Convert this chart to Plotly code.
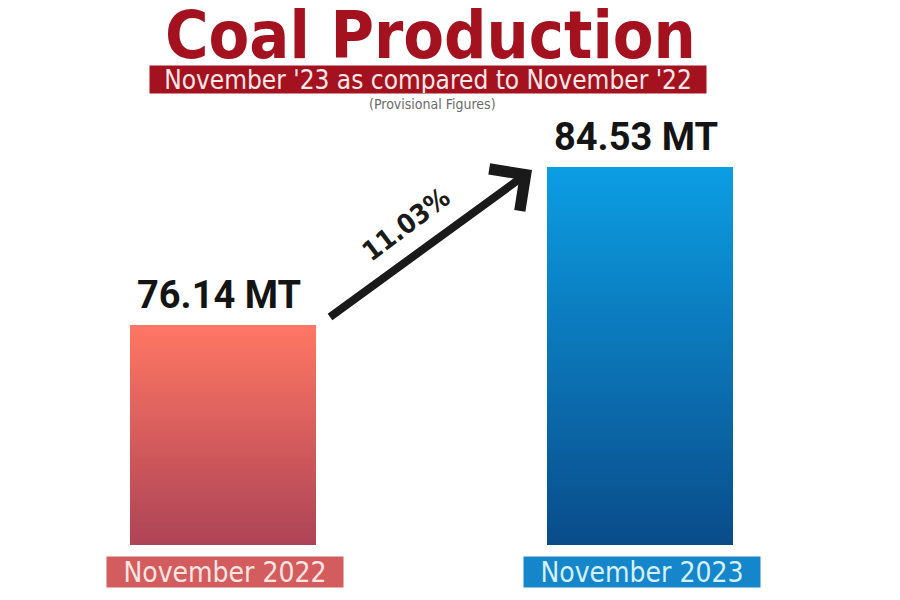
import plotly.graph_objects as go

# ---------------- data ----------------
CATEGORIES = ["November 2022", "November 2023"]
VALUES = [76.14, 84.53]
VALUE_LABELS = ["76.14 MT", "84.53 MT"]
GROWTH_LABEL = "11.03%"
TITLE = "Coal Production"
SUBTITLE = "November '23 as compared to November '22"
NOTE = "(Provisional Figures)"

# ---------------- style ----------------
TOP_COLORS = ["#FF7663", "#0C9DE3"]
BOTTOM_COLORS = ["#AD4456", "#0A4C8A"]
LABEL_BG = ["#D25C5E", "#1486C9"]
LABEL_FG = ["#FFE6E2", "#D6F0FF"]
TITLE_RED = "#A3121E"

OFF = 8            # page body margin (px) in the browser
PLOT_H = 537       # pixel height of plotting area
PX_PER_UNIT = 18.83
Y_FLOOR = 64.46
Y_TOP = Y_FLOOR + PLOT_H / PX_PER_UNIT
X_MIN = -0.5156
X_MAX = X_MIN + 900 / 417
BAR_W = 0.446
N_SLICES = 90


def hex_to_rgb(h):
    h = h.lstrip("#")
    return tuple(int(h[i:i + 2], 16) for i in (0, 2, 4))


def mix(c0, c1, t):
    a, b = hex_to_rgb(c0), hex_to_rgb(c1)
    return "rgb(%d,%d,%d)" % tuple(round(a[k] + (b[k] - a[k]) * t) for k in range(3))


def py(pixel_y):
    """window pixel row -> paper y"""
    return (PLOT_H - (pixel_y - OFF)) / PLOT_H


def px(pixel_x):
    """window pixel column -> paper x"""
    return (pixel_x - OFF) / 900


fig = go.Figure()

xs = list(range(len(CATEGORIES)))
for i, (cat, v) in enumerate(zip(CATEGORIES, VALUES)):
    step = (v - Y_FLOOR) / N_SLICES
    bases = [Y_FLOOR + k * step for k in range(N_SLICES)]
    colors = [mix(BOTTOM_COLORS[i], TOP_COLORS[i], k / (N_SLICES - 1)) for k in range(N_SLICES)]
    heights = [step * 1.02] * (N_SLICES - 1) + [step]
    fig.add_trace(go.Bar(
        x=[xs[i]] * N_SLICES,
        y=heights,
        base=bases,
        width=BAR_W,
        marker=dict(color=colors, line=dict(width=0)),
        name=cat,
        hoverinfo="skip",
        showlegend=False,
    ))

annotations = []

# value labels
for i, (v, lab) in enumerate(zip(VALUES, VALUE_LABELS)):
    annotations.append(dict(
        x=xs[i] - 0.01, y=v, xref="x", yref="y", text=lab, showarrow=False,
        yanchor="bottom", yshift=6,
        font=dict(family="Roboto", size=38, color="#141414", weight="bold"),
    ))

# category labels
for i, cat in enumerate(CATEGORIES):
    annotations.append(dict(
        x=xs[i] + 0.005, y=py(572), xref="x", yref="paper", text=cat, showarrow=False,
        yanchor="middle", bgcolor=LABEL_BG[i], borderpad=0,
        font=dict(family="DejaVu Sans Condensed", size=28, color=LABEL_FG[i]),
        width=236, height=30,
    ))

# growth arrow
tail_x, tail_y = xs[0] + BAR_W / 2 + 0.03, VALUES[0] + 0.37
head_x, head_y = xs[1] - BAR_W / 2 - 0.036, VALUES[1] - 0.15
annotations.append(dict(
    x=head_x, y=head_y, ax=tail_x, ay=tail_y,
    xref="x", yref="y", axref="x", ayref="y",
    text="", showarrow=True, arrowhead=4, arrowsize=1.25, arrowwidth=8,
    arrowcolor="#1a1a1a", standoff=0, startstandoff=0,
))
annotations.append(dict(
    x=(tail_x + head_x) / 2, y=(tail_y + head_y) / 2, xref="x", yref="y",
    text=GROWTH_LABEL, showarrow=False, textangle=-37,
    xshift=-25, yshift=20,
    font=dict(family="DejaVu Sans Condensed", size=27, color="#1a1a1a", weight="bold"),
))

# titles
annotations.append(dict(
    x=px(430), y=py(35), xref="paper", yref="paper", text=TITLE, showarrow=False,
    yanchor="middle",
    font=dict(family="DejaVu Sans Condensed", size=66, color=TITLE_RED, weight="bold"),
))
annotations.append(dict(
    x=px(428), y=py(79), xref="paper", yref="paper", text=SUBTITLE, showarrow=False,
    yanchor="middle", bgcolor=TITLE_RED, width=556, height=27, borderpad=0,
    font=dict(family="DejaVu Sans Condensed", size=26, color="#FFE8E8"),
))
annotations.append(dict(
    x=px(432), y=py(104), xref="paper", yref="paper", text=NOTE, showarrow=False,
    yanchor="middle",
    font=dict(family="DejaVu Sans Condensed", size=14, color="#6a6a6a"),
))

fig.update_layout(
    width=900, height=600,
    margin=dict(l=0, r=0, t=0, b=600 - PLOT_H),
    paper_bgcolor="white", plot_bgcolor="white",
    barmode="overlay", bargap=0,
    xaxis=dict(visible=False, range=[X_MIN, X_MAX], fixedrange=True),
    yaxis=dict(visible=False, range=[Y_FLOOR, Y_TOP], fixedrange=True),
    annotations=annotations,
    showlegend=False,
)

fig.write_html("out.html")
